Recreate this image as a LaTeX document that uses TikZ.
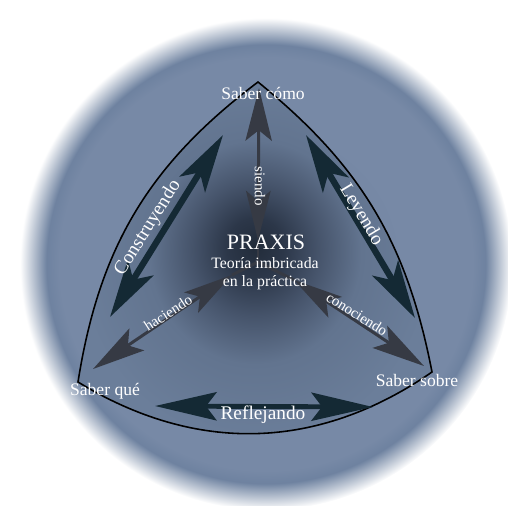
\documentclass[tikz,border=0pt]{standalone}
\usepackage{fontspec}
\setmainfont{Liberation Serif}
\usetikzlibrary{arrows.meta}
\definecolor{sphin}{HTML}{6A7D9A}
\definecolor{sphmid}{HTML}{7789A6}
\definecolor{sphrim}{HTML}{6E82A0}
\definecolor{trdark}{HTML}{222C3A}
\definecolor{trdeep}{HTML}{2C3749}
\definecolor{trmid}{HTML}{46546B}
\definecolor{trsoft}{HTML}{62748F}
\definecolor{trlight}{HTML}{6B7E9A}
\definecolor{innergray}{HTML}{363A44}
\definecolor{arrowteal}{HTML}{142934}
\pgfdeclareradialshading{sphere}{\pgfpoint{0bp}{0bp}}{color(0bp)=(sphin); color(14bp)=(sphmid); color(21bp)=(sphmid); color(22.3bp)=(sphrim); color(25bp)=(white); color(50bp)=(white)}
\pgfdeclareradialshading{praxis}{\pgfpoint{0bp}{3bp}}{color(0bp)=(trdark); color(4bp)=(trdeep); color(9bp)=(trmid); color(15bp)=(trsoft); color(25bp)=(trlight); color(50bp)=(trlight)}

\begin{document}
\begin{tikzpicture}[x=0.02cm, y=-0.02cm,
  lbl/.style={text=white, font=\fontsize{10}{12}\selectfont},
  title/.style={text=white, font=\fontsize{12.5}{14}\selectfont},
  sub/.style={text=white, align=center, font=\fontsize{9}{10.3}\selectfont},
  verb/.style={text=white, font=\fontsize{8.5}{10}\selectfont},
  act/.style={text=white, font=\fontsize{11}{13}\selectfont},
  inline/.style={line width=1.7pt, draw=innergray},
  inarr/.style={{Stealth[length=28pt,width=14pt,inset=6pt]}-{Stealth[length=30pt,width=15pt,inset=6pt]}, line width=1.7pt, draw=innergray, fill=innergray},
  outarr/.style={{Stealth[length=33pt,width=17pt,inset=8pt]}-{Stealth[length=33pt,width=17pt,inset=8pt]}, line width=3.6pt, draw=arrowteal, fill=arrowteal},
  refarr/.style={{Stealth[length=35pt,width=16pt,inset=6pt]}-{Stealth[length=35pt,width=16pt,inset=6pt]}, line width=2.8pt, draw=arrowteal, fill=arrowteal}
]
\useasboundingbox (0,0) rectangle (508,505);
\shade[shading=sphere] (266,264) circle (246);

\coordinate (como) at (258,82);
\coordinate (que) at (78,382);
\coordinate (sobre) at (432,372);
\coordinate (ctr) at (258,262);
\shadedraw[shading=praxis, line width=0.9pt, line join=miter] (como) to[bend right=22] (que) to[bend right=33] (sobre) to[bend right=20] (como) -- cycle;

\coordinate (sEnd) at (259,88);
\coordinate (sTip) at (258,240);
\coordinate (hEnd) at (93,369);
\coordinate (hTip) at (232,275);
\coordinate (cEnd) at (424,366);
\coordinate (cTip) at (294,280);
\draw[inline] (ctr) -- (sTip);
\draw[inline] (ctr) -- (hTip);
\draw[inline] (ctr) -- (cTip);
\draw[inarr] (sTip) -- (sEnd);
\draw[inarr] (hTip) -- (hEnd);
\draw[inarr] (cTip) -- (cEnd);

\coordinate (kA) at (110,317);
\coordinate (kB) at (223,135);
\coordinate (lA) at (306,135);
\coordinate (lB) at (415,318);
\coordinate (rA) at (155,406);
\coordinate (rB) at (373,407);
\draw[outarr] (kA) -- (kB);
\draw[outarr] (lA) -- (lB);
\draw[refarr] (rA) -- (rB);

\node[lbl] (tcomo) at (263,93) {Saber cómo};
\node[lbl] (tque) at (105,391) {Saber qué};
\node[lbl] (tsobre) at (417,380) {Saber sobre};
\node[title] (praxis) at (266,242) {PRAXIS};
\node[sub] (teoria) at (265,274) {Teoría imbricada\\en la práctica};
\node[verb, rotate=-90] (siendo) at (260,186) {siendo};
\node[verb, rotate=33] (haciendo) at (168,313) {haciendo};
\node[verb, rotate=-32] (conociendo) at (357,314) {conociendo};
\node[act, rotate=58] (constr) at (148,228) {Construyendo};
\node[act, rotate=-59] (leyendo) at (361,215) {Leyendo};
\node[act] (reflej) at (263,415) {Reflejando};
\end{tikzpicture}
\end{document}
